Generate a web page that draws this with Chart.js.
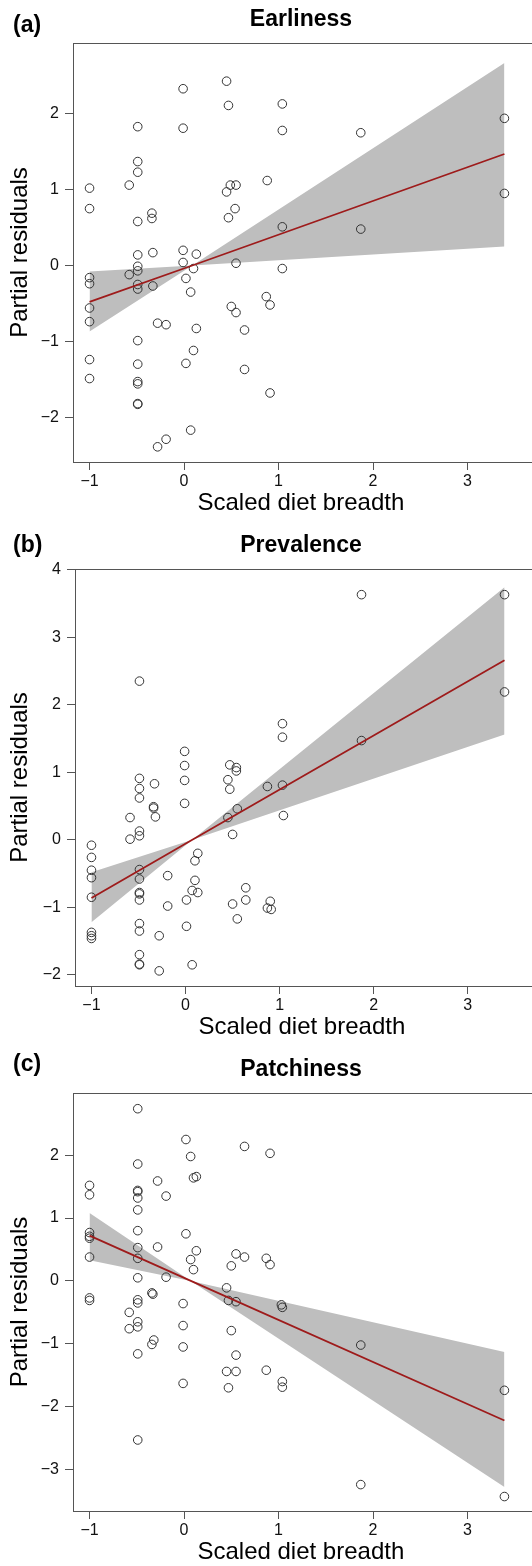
<!DOCTYPE html>
<html>
<head>
<meta charset="utf-8">
<script src="https://cdn.jsdelivr.net/npm/chart.js@4.4.1/dist/chart.umd.min.js"></script>
<style>
  html, body { margin: 0; padding: 0; background: #fff; overflow: hidden; width: 532px; height: 1566px; position: relative; }
  canvas { position: absolute; left: 0; }
</style>
</head>
<body>
<canvas id="earliness" width="534" height="522" style="top:0px"></canvas>
<canvas id="prevalence" width="534" height="520" style="top:526px"></canvas>
<canvas id="patchiness" width="534" height="521" style="top:1050px"></canvas>
<script>
// tick labels
const xTicks = [-1, 0, 1, 2, 3];
const earlinessTicks = [-2, -1, 0, 1, 2];
const prevalenceTicks = [-2, -1, 0, 1, 2, 3, 4];
const patchinessTicks = [-3, -2, -1, 0, 1, 2];

// (a) Earliness - partial residuals
const earlinessX = [0.45, -0.01, 1.04, 0.47, -0.49, -0.01, 1.04, 1.87, 3.39, -0.49, -0.49, -1, -0.58, 0.45, 0.49, 0.55, 0.88, 3.39,
  -1, -0.34, -0.34, -0.49, 0.47, 0.54, 1.04, 1.87, -0.49, -0.33, -0.01, 0.13, -0.01, 0.55, -0.49, -0.49, 0.10, 1.04,
  -0.58, -1, -1, 0.02, -0.49, -0.49, -0.33, 0.07, 0.87, 0.91, 0.50, 0.55, -1, -1, -0.28, -0.19, 0.13, 0.64,
  -0.49, 0.10, -1, 0.02, -0.49, 0.64, -1, -0.49, -0.49, 0.91, -0.49, -0.49, 0.07, -0.19, -0.28];
const earlinessY = [2.43, 2.33, 2.13, 2.11, 1.83, 1.81, 1.78, 1.75, 1.94, 1.37, 1.23, 1.02, 1.06, 0.97, 1.06, 1.06, 1.12, 0.95,
  0.75, 0.69, 0.62, 0.58, 0.63, 0.75, 0.51, 0.48, 0.14, 0.17, 0.20, 0.15, 0.04, 0.03, -0.01, -0.07, -0.04, -0.04,
  -0.12, -0.16, -0.24, -0.17, -0.25, -0.31, -0.27, -0.35, -0.41, -0.52, -0.54, -0.62, -0.56, -0.74, -0.76, -0.78, -0.83, -0.85,
  -0.99, -1.12, -1.24, -1.29, -1.30, -1.37, -1.49, -1.53, -1.56, -1.68, -1.83, -1.82, -2.17, -2.29, -2.39];
const earlinessBandX = [-1, 0.087, 3.39];
const earlinessFit = [-0.48, 0, 1.47];
const earlinessUpper = [-0.08, 0, 2.67];
const earlinessLower = [-0.87, 0, 0.25];

// (b) Prevalence
const prevalenceX = [1.87, 3.39, -0.49, 3.39, 1.03, 1.03, 1.87, -0.01, -0.01, 0.47, 0.54, 0.54, -0.49, -0.01, 0.45, -0.49, 0.47, -0.33,
  -0.49, -0.01, 0.87, 1.03, -0.34, -0.34, -0.32, -0.59, 0.55, 0.45, 1.04, -0.49, -0.49, -0.59, 0.50, -1, -1, -1,
  -1, -1, -0.49, -0.49, -0.49, -0.49, -0.49, 0.13, 0.10, -0.19, 0.10, 0.07, 0.13, 0.64, 0.01, 0.64, -0.19, 0.50,
  0.90, 0.87, 0.91, 0.55, -0.49, -0.49, 0.01, -0.28, -1, -1, -1, -0.49, -0.49, -0.49, 0.07, -0.28];
const prevalenceY = [3.63, 3.63, 2.35, 2.19, 1.72, 1.52, 1.47, 1.31, 1.10, 1.11, 1.07, 1.02, 0.91, 0.88, 0.89, 0.76, 0.75, 0.83,
  0.62, 0.54, 0.79, 0.81, 0.49, 0.47, 0.34, 0.33, 0.46, 0.33, 0.36, 0.13, 0.06, 0.01, 0.08, -0.08, -0.26, -0.45,
  -0.56, -0.85, -0.44, -0.58, -0.78, -0.80, -0.89, -0.20, -0.31, -0.53, -0.60, -0.75, -0.78, -0.71, -0.89, -0.89, -0.98, -0.95,
  -0.91, -1.01, -1.03, -1.17, -1.24, -1.35, -1.28, -1.42, -1.37, -1.42, -1.46, -1.70, -1.84, -1.85, -1.85, -1.94];
const prevalenceBandX = [-1, 0.072, 3.39];
const prevalenceFit = [-0.86, 0, 2.66];
const prevalenceUpper = [-0.48, 0, 3.74];
const prevalenceLower = [-1.22, 0, 1.56];

// (c) Patchiness
const patchinessX = [-0.49, 0.02, 0.64, 0.91, 0.07, -0.49, 0.10, 0.13, -0.28, -1, -1, -0.49, -0.49, -0.49, -0.19, -0.49, -0.49, 0.02,
  -1, -1, -1, -0.49, -0.28, 0.13, 0.55, 0.64, 0.87, 0.91, 0.07, 0.50, 0.10, -1, -0.49, -0.49, -0.19, 0.45,
  -1, -1, -0.49, -0.49, -0.34, -0.33, -0.01, 0.47, 0.55, 1.03, 1.04, -0.58, -0.49, -0.49, -0.58, -0.01, 0.50, -0.32,
  -0.34, -0.49, -0.01, 0.55, 1.87, 0.45, 0.55, 0.87, -0.01, 0.47, 1.04, 1.04, 3.39, -0.49, 1.87, 3.39];
const patchinessY = [2.74, 2.25, 2.14, 2.03, 1.98, 1.86, 1.64, 1.66, 1.59, 1.52, 1.37, 1.44, 1.42, 1.32, 1.35, 1.13, 0.80, 0.75,
  0.77, 0.71, 0.68, 0.53, 0.54, 0.48, 0.43, 0.38, 0.36, 0.26, 0.34, 0.24, 0.18, 0.38, 0.36, 0.05, 0.06, -0.11,
  -0.27, -0.31, -0.30, -0.35, -0.19, -0.21, -0.36, -0.31, -0.33, -0.38, -0.42, -0.50, -0.65, -0.73, -0.76, -0.71, -0.79, -0.94,
  -1.01, -1.16, -1.05, -1.18, -1.02, -1.44, -1.44, -1.42, -1.63, -1.70, -1.60, -1.69, -1.74, -2.53, -3.24, -3.43];
const patchinessBandX = [-1, 0.072, 3.39];
const patchinessFit = [0.72, 0, -2.22];
const patchinessUpper = [1.08, 0, -1.13];
const patchinessLower = [0.33, 0, -3.28];

const FONT = "'Liberation Sans', Arial, Helvetica, sans-serif";
const AXIS_COL = '#555555';

const toXY = (xs, ys) => xs.map((x, i) => ({ x: x, y: ys[i] }));
const minus = v => (v < 0 ? '\u2212' + Math.abs(v) : String(v));

// panel letter + bold title above the plot box
const panelText = {
  id: 'panelText',
  afterDraw(chart, args, opts) {
    const ctx = chart.ctx;
    const area = chart.chartArea;
    ctx.save();
    ctx.fillStyle = '#000';
    ctx.textBaseline = 'alphabetic';
    ctx.font = 'bold 23px ' + FONT;
    ctx.textAlign = 'left';
    ctx.fillText(opts.letter, 13, opts.letterBase);
    ctx.textAlign = 'center';
    ctx.fillText(opts.title, 301, area.top - 17);
    ctx.restore();
  }
};

// box around the plotting region (right side runs off the page)
const frame = {
  id: 'frame',
  afterDatasetsDraw(chart) {
    const ctx = chart.ctx;
    const a = chart.chartArea;
    ctx.save();
    ctx.strokeStyle = AXIS_COL;
    ctx.lineWidth = 1;
    ctx.strokeRect(Math.round(a.left) + 0.5, Math.round(a.top) + 0.5,
      Math.round(a.right - a.left) + 4, Math.round(a.bottom - a.top));
    ctx.restore();
  }
};

function makePanel(id, p) {
  const ctx = document.getElementById(id).getContext('2d');
  return new Chart(ctx, {
    type: 'line',
    data: {
      datasets: [
        {
          data: toXY(p.bandX, p.fit),
          borderColor: '#9e1b1b',
          borderWidth: 1.8,
          pointRadius: 0,
          fill: false,
          order: 0
        },
        {
          data: toXY(p.x, p.y),
          showLine: false,
          pointRadius: 4.3,
          pointBorderWidth: 1,
          pointBorderColor: '#333333',
          pointBackgroundColor: 'rgba(0,0,0,0)',
          order: 1
        },
        {
          data: toXY(p.bandX, p.upper),
          borderWidth: 0,
          borderColor: 'rgba(0,0,0,0)',
          pointRadius: 0,
          backgroundColor: '#bebebe',
          fill: '+1',
          order: 2
        },
        {
          data: toXY(p.bandX, p.lower),
          borderWidth: 0,
          borderColor: 'rgba(0,0,0,0)',
          pointRadius: 0,
          fill: false,
          order: 3
        }
      ]
    },
    options: {
      responsive: false,
      animation: false,
      layout: { padding: { top: 43, left: 0, right: 0, bottom: 0 } },
      plugins: {
        legend: { display: false },
        tooltip: { enabled: false },
        panelText: { letter: p.letter, title: p.title, letterBase: p.letterBase }
      },
      scales: {
        x: {
          type: 'linear',
          min: -1.175,
          max: 3.647,
          afterFit: s => { s.height = 60; },
          afterBuildTicks: s => { s.ticks = xTicks.map(v => ({ value: v })); },
          grid: { drawOnChartArea: false, drawTicks: true, tickLength: 8, color: AXIS_COL },
          border: { display: false },
          ticks: {
            padding: 2,
            maxRotation: 0,
            color: '#111',
            font: { family: FONT, size: 16 },
            callback: v => minus(v)
          },
          title: {
            display: true,
            text: 'Scaled diet breadth',
            color: '#000',
            font: { family: FONT, size: 24 },
            padding: { top: 0, bottom: 4 }
          }
        },
        y: {
          min: p.yMin,
          max: p.yMax,
          afterFit: s => { s.width = p.left; },
          afterBuildTicks: s => { s.ticks = p.yTicks.map(v => ({ value: v })); },
          grid: { drawOnChartArea: false, drawTicks: true, tickLength: 8, color: AXIS_COL },
          border: { display: false },
          ticks: {
            padding: 6,
            color: '#111',
            font: { family: FONT, size: 16 },
            callback: v => minus(v)
          },
          title: {
            display: true,
            text: 'Partial residuals',
            color: '#000',
            font: { family: FONT, size: 24 },
            padding: { top: 6, bottom: 0 }
          }
        }
      }
    },
    plugins: [frame, panelText]
  });
}

makePanel('earliness', {
  letter: '(a)', title: 'Earliness', letterBase: 32, left: 73,
  x: earlinessX, y: earlinessY, bandX: earlinessBandX,
  fit: earlinessFit, upper: earlinessUpper, lower: earlinessLower,
  yMin: -2.59, yMax: 2.933, yTicks: earlinessTicks
});

makePanel('prevalence', {
  letter: '(b)', title: 'Prevalence', letterBase: 26, left: 75,
  x: prevalenceX, y: prevalenceY, bandX: prevalenceBandX,
  fit: prevalenceFit, upper: prevalenceUpper, lower: prevalenceLower,
  yMin: -2.164, yMax: 4.01, yTicks: prevalenceTicks
});

makePanel('patchiness', {
  letter: '(c)', title: 'Patchiness', letterBase: 21, left: 73,
  x: patchinessX, y: patchinessY, bandX: patchinessBandX,
  fit: patchinessFit, upper: patchinessUpper, lower: patchinessLower,
  yMin: -3.66, yMax: 2.99, yTicks: patchinessTicks
});
</script>
</body>
</html>
